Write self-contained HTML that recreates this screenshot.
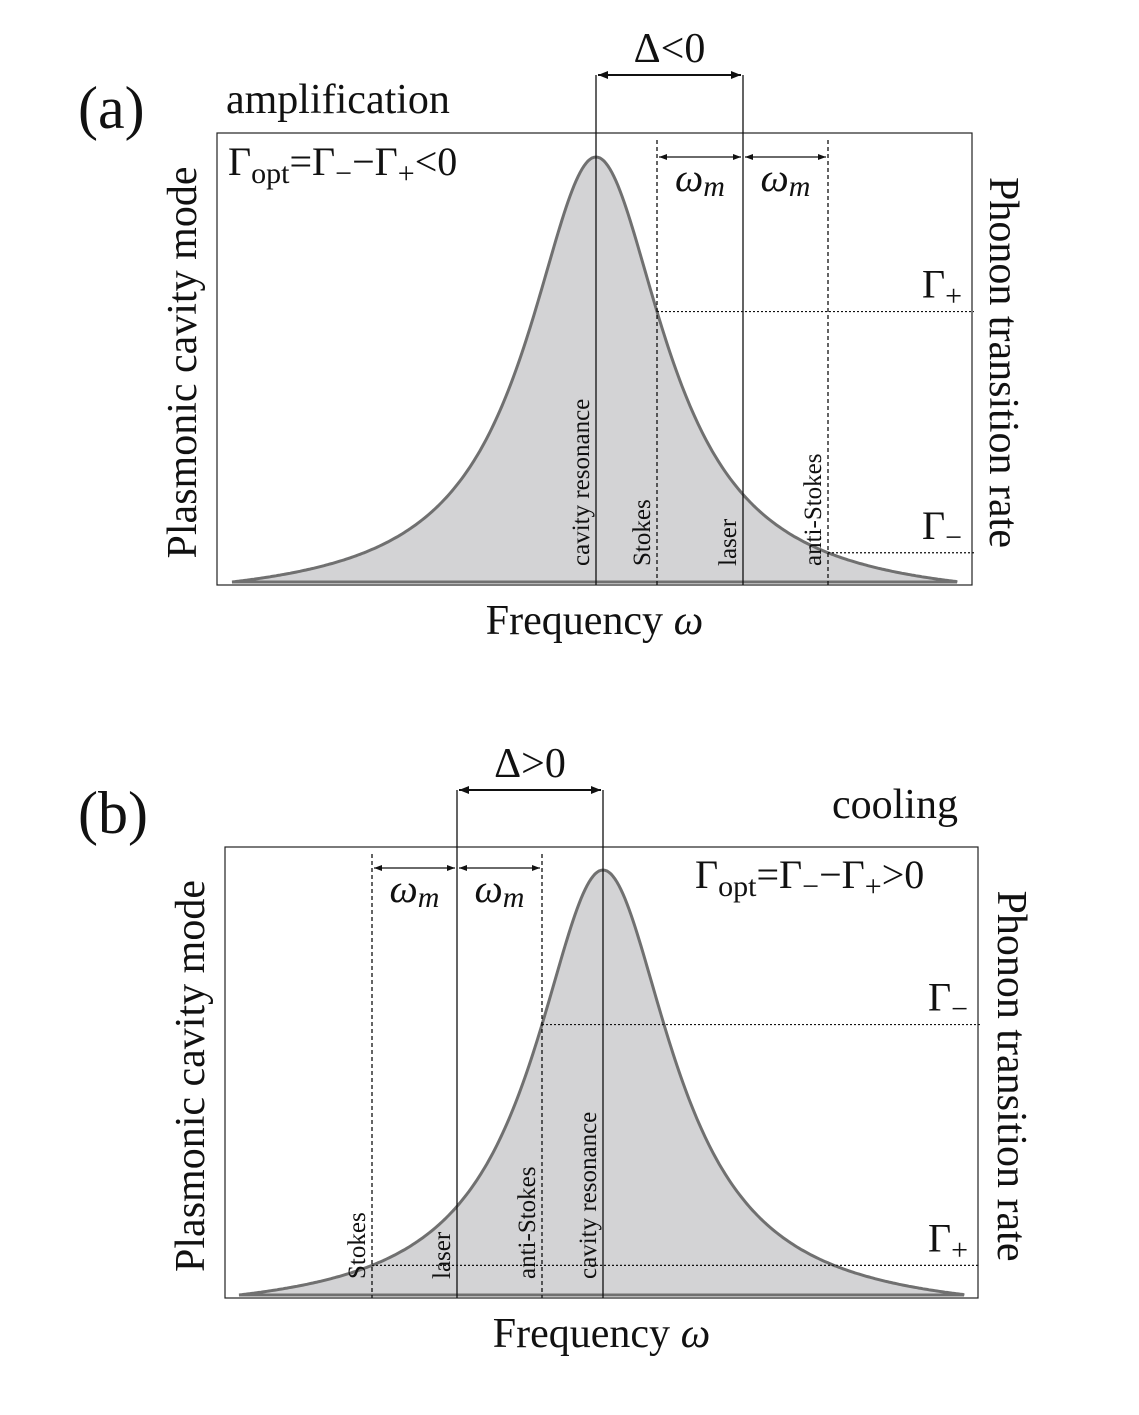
<!DOCTYPE html>
<html><head><meta charset="utf-8">
<style>
html,body{margin:0;padding:0;background:#fff;}
svg{display:block;font-family:"Liberation Serif",serif;}
</style></head>
<body>
<svg id="fig" width="1139" height="1415" viewBox="0 0 1139 1415" xmlns="http://www.w3.org/2000/svg">
</svg>
<script>
// Data: curve and marker positions in frequency units (relative to cavity resonance)
const curveWidth = [84];           // Lorentzian half width (frequency units)
const curveSpan = [-364, 361];     // plotted frequency range relative to resonance
const panelA_markers = [0, 61, 147, 232];    // cavity resonance, Stokes, laser, anti-Stokes
const panelA_labels = ["cavity resonance", "Stokes", "laser", "anti-Stokes"];
const panelB_markers = [-231, -146, -61, 0]; // Stokes, laser, anti-Stokes, cavity resonance
const panelB_labels = ["Stokes", "laser", "anti-Stokes", "cavity resonance"];

const NS = "http://www.w3.org/2000/svg";
const svg = document.getElementById("fig");
function el(tag, attrs, parent, text){
  const e = document.createElementNS(NS, tag);
  for (const k in attrs) e.setAttribute(k, attrs[k]);
  if (text !== undefined) e.textContent = text;
  (parent || svg).appendChild(e);
  return e;
}
function lor(d){ return 1/(1+(d/curveWidth[0])**2); }
const lEdge = lor(curveSpan[0]);
function val(d){ return Math.max(0,(lor(d)-lEdge)/(1-lEdge)); }

function panel(cfg){
  const g = el("g", {}, svg);
  
  
  const X = d => cfg.x0 + d;
  const Y = v => cfg.base - v*(cfg.base - cfg.peak);
  let p = "M" + X(curveSpan[0]) + "," + cfg.base;
  for (let d = curveSpan[0]; d <= curveSpan[1]; d += 2) p += " L" + X(d).toFixed(1) + "," + Y(val(d)).toFixed(1);
  p += " L" + X(curveSpan[1]) + "," + cfg.base + " Z";
  const c = el("path", {d:p, fill:"#d3d3d5", stroke:"#707070", "stroke-width":3}, g);
  
  
  const fr = el("rect", {x:cfg.bx0, y:cfg.by0, width:cfg.bx1-cfg.bx0, height:cfg.base+3-cfg.by0, fill:"none", stroke:"#222", "stroke-width":1.2}, g);
  
  
  cfg.markers.forEach((m, i) => {
    const solid = cfg.solid[i];
    const ln = el("line", {x1:X(m), x2:X(m), y1: solid ? cfg.arrowY : cfg.by0+7, y2:cfg.base+3, stroke:"#111", "stroke-width":1.3, "stroke-dasharray": solid ? "none" : "4,3"}, g);
    
    
    const tx = X(m) - 7, ty = cfg.base - 16;
    const t = el("text", {x:tx, y:ty, transform:`rotate(-90 ${tx} ${ty})`, "font-size":25, fill:"#111"}, g, cfg.labels[i]);
    
    
  });
  const da = el("line", {x1:X(cfg.delta[0])+2, x2:X(cfg.delta[1])-2, y1:cfg.arrowY, y2:cfg.arrowY, stroke:"#111", "stroke-width":2, "marker-start":"url(#ah)", "marker-end":"url(#ah)"}, g);
  
  
  const dt = el("text", {x:(X(cfg.delta[0])+X(cfg.delta[1]))/2, y:cfg.arrowY-13, "font-size":42, "text-anchor":"middle", fill:"#111"}, g, cfg.deltaText);
  
  
  cfg.wm.forEach(pair => {
    const a = el("line", {x1:X(pair[0])+2, x2:X(pair[1])-2, y1:cfg.wmY, y2:cfg.wmY, stroke:"#111", "stroke-width":1.2, "marker-start":"url(#ahs)", "marker-end":"url(#ahs)"}, g);
    
    
    const t = el("text", {x:(X(pair[0])+X(pair[1]))/2, y:cfg.wmY+34, "font-size":40, "font-style":"italic", "text-anchor":"middle", fill:"#111"}, g);
    
    
    t.innerHTML = 'ω<tspan font-size="30" dy="5">m</tspan>';
  });
  cfg.gam.forEach(gm => {
    const y = Y(val(gm.at));
    const l = el("line", {x1:X(gm.at), x2:cfg.bx1+2, y1:y, y2:y, stroke:"#111", "stroke-width":1.2, "stroke-dasharray":"2,2"}, g);
    
    
    const t = el("text", {x:cfg.bx1-50, y:y-14, "font-size":40, fill:"#111"}, g);
    
    
    t.innerHTML = 'Γ<tspan font-size="30" dy="8">' + (gm.sign==='plus'?'+':'−') + '</tspan>';
  });
  const xt = el("text", {x:(cfg.bx0+cfg.bx1)/2, y:cfg.base+52, "font-size":42, "text-anchor":"middle", fill:"#111"}, g);
  
  
  xt.innerHTML = 'Frequency <tspan font-style="italic">ω</tspan>';
  const ly = (cfg.by0+cfg.base)/2 + 5, lx = cfg.lx;
  const yt = el("text", {x:lx, y:ly, transform:`rotate(-90 ${lx} ${ly})`, "font-size":42, "text-anchor":"middle", fill:"#111"}, g, "Plasmonic cavity mode");
  
  
  const rx = cfg.rx;
  const rt = el("text", {x:rx, y:ly, transform:`rotate(90 ${rx} ${ly})`, "font-size":42, "text-anchor":"middle", fill:"#111"}, g, "Phonon transition rate");
  
  
  const pl = el("text", {x:cfg.letter[0], y:cfg.letter[1], "font-size":60, fill:"#111"}, g, cfg.letterText);
  
  
  const rg = el("text", {x:cfg.regime[0], y:cfg.regime[1], "font-size":42, fill:"#111"}, g, cfg.regimeText);
  
  
  const fm = el("text", {x:cfg.formula[0], y:cfg.formula[1], "font-size":40, fill:"#111"}, g);
  
  
  fm.innerHTML = 'Γ<tspan font-size="30" dy="8">opt</tspan><tspan dy="-8">=Γ</tspan><tspan font-size="30" dy="8">−</tspan><tspan dy="-8">−Γ</tspan><tspan font-size="30" dy="8">+</tspan><tspan dy="-8">' + cfg.formulaEnd + '</tspan>';
}

const defs = el("defs", {});
el("path", {d:"M0,0 L10,4 L0,8 z", fill:"#111"}, el("marker", {id:"ah", markerWidth:10, markerHeight:8, refX:10, refY:4, orient:"auto-start-reverse", markerUnits:"userSpaceOnUse"}, defs));
el("path", {d:"M0,0 L8,3 L0,6 z", fill:"#111"}, el("marker", {id:"ahs", markerWidth:8, markerHeight:6, refX:8, refY:3, orient:"auto-start-reverse", markerUnits:"userSpaceOnUse"}, defs));

panel({name:"panel-a", x0:596, base:582, peak:157, bx0:217, bx1:972, by0:133, arrowY:75, wmY:157,
  markers:panelA_markers, labels:panelA_labels, solid:[true,false,true,false],
  delta:[0,147], deltaText:"Δ<0", wm:[[61,147],[147,232]],
  gam:[{at:61, sign:"plus"},{at:232, sign:"minus"}],
  letter:[78,128], letterText:"(a)", regime:[226,113], regimeText:"amplification",
  formula:[228,175], formulaEnd:"<0", lx:196, rx:990});
panel({name:"panel-b", x0:603, base:1295, peak:870, bx0:225, bx1:978, by0:847, arrowY:790, wmY:868,
  markers:panelB_markers, labels:panelB_labels, solid:[false,true,false,true],
  delta:[-146,0], deltaText:"Δ>0", wm:[[-231,-146],[-146,-61]],
  gam:[{at:-61, sign:"minus"},{at:-231, sign:"plus"}],
  letter:[78,833], letterText:"(b)", regime:[832,818], regimeText:"cooling",
  formula:[695,888], formulaEnd:">0", lx:204, rx:998});
</script>
</body></html>
